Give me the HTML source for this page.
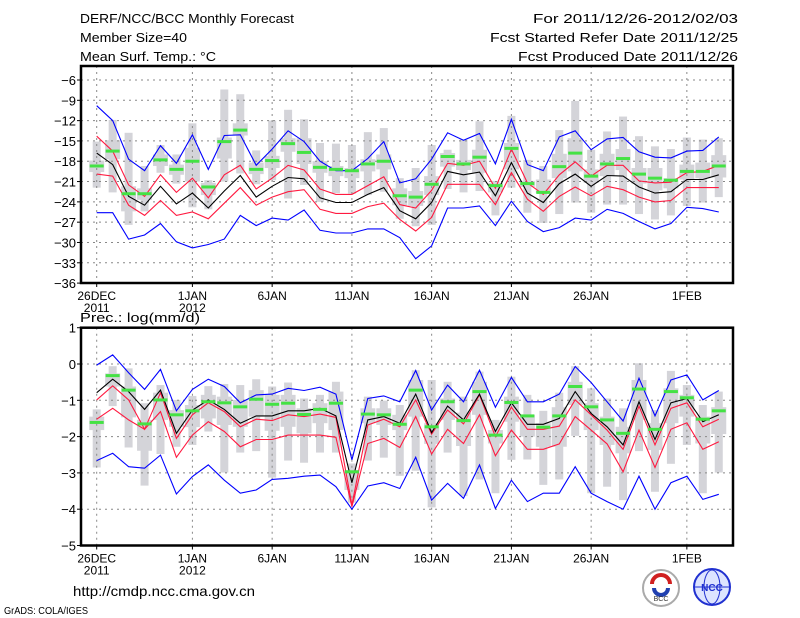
<!DOCTYPE html>
<html><head><meta charset="utf-8"><style>
html,body{margin:0;padding:0;background:#fff;}
svg{display:block;font-family:"Liberation Sans",sans-serif;}
</style></head><body>
<svg id="chart" width="800" height="618" viewBox="0 0 800 618" xmlns="http://www.w3.org/2000/svg">
<rect x="0" y="0" width="800" height="618" fill="#fff"/>
<g font-size="13" fill="#000">
<text x="80" y="23" textLength="214" lengthAdjust="spacingAndGlyphs">DERF/NCC/BCC Monthly Forecast</text>
<text x="80" y="42" textLength="107" lengthAdjust="spacingAndGlyphs">Member Size=40</text>
<text x="80" y="61" textLength="136" lengthAdjust="spacingAndGlyphs">Mean Surf. Temp.: °C</text>
<text x="533" y="23" textLength="205" lengthAdjust="spacingAndGlyphs">For 2011/12/26-2012/02/03</text>
<text x="490" y="42" textLength="248" lengthAdjust="spacingAndGlyphs">Fcst Started Refer Date 2011/12/25</text>
<text x="518" y="61" textLength="220" lengthAdjust="spacingAndGlyphs">Fcst Produced Date 2011/12/26</text>
</g>
<text x="80" y="322" font-size="13" textLength="120" lengthAdjust="spacingAndGlyphs">Prec.: log(mm/d)</text>
<g id="top"></g>
<g id="bot"></g>
<text x="73" y="596" font-size="14" textLength="182" lengthAdjust="spacingAndGlyphs">http://cmdp.ncc.cma.gov.cn</text>
<text x="4" y="614" font-size="10" textLength="84" lengthAdjust="spacingAndGlyphs">GrADS: COLA/IGES</text>
<g>
<circle cx="661" cy="588" r="18" fill="#fff" stroke="#aaa" stroke-width="2"/>
<path d="M652 584 a9 9 0 1 1 18 0" fill="none" stroke="#d02020" stroke-width="4"/>
<path d="M654 588 a7 7 0 0 0 14 0" fill="none" stroke="#2040b0" stroke-width="4"/>
<text x="661" y="601" font-size="7" text-anchor="middle" fill="#333">BCC</text>
</g>
<g>
<circle cx="712" cy="587" r="18" fill="#dde4ff" stroke="#2030d0" stroke-width="2"/>
<ellipse cx="712" cy="587" rx="8" ry="17" fill="none" stroke="#2030d0"/>
<line x1="695" y1="587" x2="729" y2="587" stroke="#2030d0"/>
<text x="712" y="591" font-size="10" font-weight="bold" text-anchor="middle" fill="#2030d0">NCC</text>
</g>
</svg>
<script>
// ---- Temperature panel data (40 days from 26 Dec 2011) ----
const dayLabels = ["26DEC","1JAN","6JAN","11JAN","16JAN","21JAN","26JAN","1FEB"];
const dayLabelIdx = [0,6,11,16,21,26,31,37];
const yearLabels = ["2011","2012"];
const tTicks = [-6,-9,-12,-15,-18,-21,-24,-27,-30,-33,-36];
const tMean = [-16.8,-18.5,-23.2,-24.5,-21.7,-24.3,-22.7,-24.9,-22.4,-20.1,-23.3,-21.7,-20.4,-20.6,-23.4,-24.1,-24.1,-22.9,-21.9,-25.3,-26.5,-24.1,-19.5,-20.0,-19.6,-23.1,-18.2,-22.7,-24.1,-21.3,-19.9,-21.7,-20.1,-20.2,-21.8,-22.7,-22.5,-20.7,-20.7,-20.0];
const tRedHi = [-14.3,-16.5,-21.5,-23.2,-20.0,-22.6,-20.5,-23.4,-20.0,-18.6,-22.1,-20.5,-18.6,-19.3,-22.1,-22.9,-22.9,-21.6,-20.3,-24.4,-24.9,-22.3,-18.3,-18.6,-18.0,-22.0,-16.2,-21.2,-22.9,-20.0,-18.1,-20.2,-18.6,-18.6,-20.9,-21.2,-21.1,-19.7,-19.5,-18.6];
const tRedLo = [-19.9,-20.2,-24.5,-26.0,-23.8,-26.0,-25.5,-26.5,-24.2,-21.9,-24.5,-23.3,-22.5,-22.2,-25.1,-25.7,-25.7,-24.7,-24.2,-26.6,-28.3,-26.3,-21.4,-21.4,-21.4,-24.4,-19.7,-23.6,-25.4,-23.2,-21.8,-23.1,-21.7,-22.2,-23.3,-24.0,-23.8,-21.9,-21.9,-21.9];
const tBlueHi = [-9.8,-12.0,-17.7,-19.4,-15.7,-18.3,-14.1,-19.2,-14.2,-14.1,-18.6,-16.2,-13.5,-15.1,-18.0,-19.4,-19.4,-17.6,-15.1,-21.2,-20.6,-17.7,-13.8,-14.9,-13.9,-18.4,-11.8,-18.5,-19.4,-14.4,-13.5,-16.3,-14.7,-14.5,-16.6,-17.4,-17.5,-16.5,-16.4,-14.4];
const tBlueLo = [-25.6,-25.6,-29.5,-28.9,-27.2,-29.9,-30.8,-30.3,-29.5,-26.0,-27.5,-26.4,-26.7,-25.2,-28.2,-28.6,-28.6,-28.0,-28.0,-29.3,-32.4,-30.5,-24.9,-24.9,-24.6,-27.5,-23.9,-26.9,-28.4,-27.8,-26.4,-26.7,-25.1,-25.7,-26.9,-28.0,-27.2,-24.8,-25.0,-25.5];
const tGreen = [-18.7,-16.5,-22.8,-22.8,-17.8,-19.2,-18.0,-21.8,-15.1,-13.4,-19.2,-17.9,-15.4,-16.7,-18.9,-19.2,-19.4,-18.4,-18.0,-23.1,-23.3,-21.4,-17.3,-18.4,-17.4,-21.6,-16.1,-21.3,-22.6,-18.8,-16.8,-20.2,-18.4,-17.6,-19.9,-20.5,-20.8,-19.5,-19.5,-18.7];
const tMax = [-15.1,-11.9,-13.8,-18.7,-15.6,-17.0,-12.4,-20.8,-7.4,-8.1,-16.4,-12.0,-10.4,-11.8,-15.3,-15.4,-15.6,-13.7,-13.1,-20.5,-19.0,-15.6,-16.3,-14.8,-12.1,-20.9,-11.3,-17.8,-18.7,-13.4,-9.1,-16.3,-13.6,-11.4,-14.3,-15.8,-16.2,-14.5,-14.8,-14.6];
const tMin = [-21.9,-22.6,-27.4,-25.4,-19.7,-21.3,-24.8,-25.1,-21.0,-19.8,-21.4,-20.8,-23.5,-21.5,-24.0,-22.7,-22.8,-23.0,-22.5,-26.5,-27.6,-27.4,-22.1,-22.6,-22.4,-26.0,-21.9,-25.6,-27.1,-25.8,-24.1,-25.6,-24.4,-24.4,-25.8,-26.6,-26.0,-24.6,-24.1,-23.3];
const tQ3 = [-17.9,-14.9,-21.7,-22.0,-17.0,-18.5,-16.0,-21.2,-14.5,-12.4,-18.2,-17.2,-14.6,-14.6,-18.0,-18.7,-19.0,-17.7,-17.0,-22.0,-22.4,-20.2,-16.8,-17.8,-16.3,-21.2,-15.3,-20.9,-20.7,-16.9,-14.6,-19.2,-16.9,-16.2,-19.0,-19.0,-20.5,-18.5,-18.2,-17.1];
const tQ1 = [-19.6,-17.7,-25.4,-23.7,-18.7,-20.0,-21.0,-23.0,-17.6,-14.2,-19.9,-19.0,-16.6,-18.4,-19.7,-20.2,-20.5,-19.5,-19.2,-24.5,-24.6,-23.0,-18.8,-19.3,-19.7,-22.6,-19.2,-21.8,-22.7,-20.5,-19.5,-21.2,-20.2,-19.3,-21.3,-22.3,-22.0,-20.7,-20.5,-20.4];
// ---- Precipitation panel data ----
const pTicks = [1,0,-1,-2,-3,-4,-5];
const pMean = [-0.79,-0.42,-0.76,-1.25,-0.72,-1.91,-1.27,-0.99,-1.25,-1.63,-1.43,-1.43,-1.29,-1.29,-1.22,-1.43,-3.27,-1.54,-1.45,-1.63,-0.83,-1.89,-1.16,-1.54,-0.83,-1.86,-1.07,-1.66,-1.66,-1.50,-0.76,-1.36,-1.73,-2.23,-1.04,-2.08,-1.07,-0.95,-1.59,-1.40];
const pRedHi = [-0.99,-0.60,-0.99,-1.80,-0.79,-2.05,-1.40,-1.07,-1.31,-1.73,-1.52,-1.56,-1.40,-1.45,-1.38,-1.47,-3.88,-1.68,-1.52,-1.73,-0.99,-1.93,-1.27,-1.65,-0.85,-2.00,-1.19,-1.80,-1.80,-1.71,-0.99,-1.40,-1.82,-2.35,-1.16,-2.23,-1.22,-1.07,-1.73,-1.52];
const pRedLo = [-1.52,-1.22,-1.54,-1.80,-1.31,-2.57,-1.96,-1.59,-1.86,-2.28,-2.08,-2.08,-1.96,-1.96,-1.96,-2.02,-3.93,-2.19,-2.05,-2.30,-1.45,-2.48,-1.80,-2.19,-1.40,-2.53,-1.82,-2.35,-2.35,-2.20,-1.45,-1.82,-2.20,-2.97,-1.82,-2.85,-1.80,-1.62,-2.35,-2.14];
const pBlueHi = [-0.03,0.25,-0.24,-0.70,-0.15,-1.29,-0.70,-0.42,-0.62,-1.07,-0.85,-0.83,-0.67,-0.73,-0.64,-0.83,-2.64,-0.95,-0.88,-1.04,-0.18,-1.27,-0.58,-1.04,-0.17,-1.19,-0.37,-1.04,-1.04,-0.83,-0.07,-0.51,-1.04,-1.57,-0.39,-1.43,-0.44,-0.30,-0.99,-0.73];
const pBlueLo = [-2.66,-2.46,-2.83,-2.87,-2.51,-3.58,-3.10,-2.78,-3.20,-3.56,-3.47,-3.18,-3.15,-3.09,-3.06,-3.38,-4.00,-3.36,-3.27,-3.43,-2.57,-3.75,-3.29,-3.70,-2.78,-3.98,-3.20,-3.79,-3.56,-3.56,-2.83,-3.56,-3.79,-4.00,-3.09,-4.00,-3.27,-3.09,-3.73,-3.59];
const pGreen = [-1.61,-0.32,-0.72,-1.65,-0.99,-1.40,-1.29,-1.04,-1.07,-1.18,-0.97,-1.11,-1.08,-1.39,-1.25,-1.08,-2.97,-1.38,-1.40,-1.66,-0.72,-1.73,-1.04,-1.56,-0.76,-1.96,-1.06,-1.43,-1.74,-1.43,-0.62,-1.18,-1.54,-1.91,-0.69,-1.80,-0.76,-0.93,-1.52,-1.29];
const pMax = [-1.25,-0.06,-0.12,-1.08,-0.58,-0.99,-0.88,-0.61,-0.55,-0.58,-0.42,-0.62,-0.51,-0.95,-0.85,-0.49,-2.74,-0.90,-1.01,-1.13,-0.17,-0.44,-0.49,-0.90,-0.21,-1.54,-0.35,-0.85,-1.29,-0.79,-0.06,-0.67,-0.95,-1.22,0.02,-1.27,-0.19,-0.58,-1.13,-0.76];
const pMin = [-2.85,-1.16,-2.30,-3.35,-2.48,-2.28,-2.23,-1.86,-2.99,-2.44,-2.40,-3.13,-2.66,-2.72,-2.44,-2.44,-3.82,-2.66,-2.58,-3.08,-2.94,-3.95,-2.44,-3.64,-3.18,-3.56,-2.64,-2.63,-3.33,-3.18,-1.98,-3.56,-3.38,-3.75,-2.40,-3.52,-2.75,-2.23,-3.56,-2.99];
const pQ3 = [-1.45,-0.26,-0.62,-1.54,-0.79,-1.27,-1.13,-0.85,-0.90,-0.99,-0.72,-0.85,-0.85,-1.22,-1.08,-0.76,-2.92,-1.22,-1.22,-1.40,-0.44,-1.63,-0.95,-1.34,-0.49,-1.82,-0.90,-1.40,-1.63,-1.19,-0.49,-1.08,-1.45,-1.73,-0.44,-1.63,-0.67,-0.85,-1.45,-1.19];
const pQ1 = [-1.82,-0.62,-1.47,-2.39,-1.54,-1.73,-1.74,-1.50,-1.68,-1.73,-1.45,-1.84,-1.73,-1.91,-1.63,-1.82,-3.47,-1.63,-1.68,-1.82,-1.45,-2.20,-1.54,-2.26,-1.40,-2.19,-1.59,-2.00,-2.28,-2.28,-1.13,-1.82,-2.23,-2.46,-1.54,-2.37,-1.63,-1.45,-2.19,-1.93];

const NS = "http://www.w3.org/2000/svg";
const X0 = 81, X1 = 733;
function xDay(d){ return 96.7 + 15.95*d; }
function mk(parent, tag, attrs){
  const e = document.createElementNS(NS, tag);
  for (const k in attrs) e.setAttribute(k, attrs[k]);
  parent.appendChild(e);
  return e;
}
function drawPanel(g, top, bottom, yf, ticks, series, boxes, green){
  // boxes
  for (let i=0;i<boxes.max.length;i++){
    const x = xDay(i);
    const w = mk(g,'rect',{x:x-4,y:yf(boxes.max[i]),width:8,height:yf(boxes.min[i])-yf(boxes.max[i]),fill:'#d4d4d9'});
    
    
    const b = mk(g,'rect',{x:x-7.5,y:yf(boxes.q3[i]),width:15,height:yf(boxes.q1[i])-yf(boxes.q3[i]),fill:'#d4d4d9'});
    
    
  }
  // grid
  for (const t of ticks){
    const y = yf(t);
    if (y>top+1 && y<bottom-1){
      const l = mk(g,'line',{x1:X0,x2:X1,y1:y,y2:y,stroke:'#888','stroke-dasharray':'2,4','stroke-width':1});
      
      
    }
    const tk = mk(g,'line',{x1:X0-4,x2:X0,y1:y,y2:y,stroke:'#000'});
    
    
    const tx = mk(g,'text',{x:76,y:y+5,'font-size':13,'text-anchor':'end'});
    tx.textContent = (t<0? '\u2212'+(-t) : ''+t);
    
    
  }
  for (let k=0;k<dayLabelIdx.length;k++){
    const x = xDay(dayLabelIdx[k]);
    const l = mk(g,'line',{x1:x,x2:x,y1:top,y2:bottom,stroke:'#888','stroke-dasharray':'2,4'});
    
    
    const tk = mk(g,'line',{x1:x,x2:x,y1:bottom,y2:bottom+4,stroke:'#000'});
    
    
    const tx = mk(g,'text',{x:x,y:bottom+17,'font-size':12,'text-anchor':'middle'});
    tx.textContent = dayLabels[k];
    
    
  }
  for (let k=0;k<yearLabels.length;k++){
    const tx = mk(g,'text',{x:xDay(dayLabelIdx[k]),y:bottom+29,'font-size':12,'text-anchor':'middle'});
    tx.textContent = yearLabels[k];
    
    
  }
  // lines
  for (const s of series){
    const pts = s.v.map((v,i)=>xDay(i).toFixed(1)+','+yf(v).toFixed(1)).join(' ');
    const p = mk(g,'polyline',{points:pts,fill:'none',stroke:s.c,'stroke-width':1.1});
    
    
  }
  for (let i=0;i<green.length;i++){
    const r = mk(g,'rect',{x:xDay(i)-7,y:yf(green[i])-1.5,width:14,height:3,fill:'#44e244'});
    
    
  }
  const f = mk(g,'rect',{x:X0,y:top,width:X1-X0,height:bottom-top,fill:'none',stroke:'#000','stroke-width':2.5});
  
  
}
const yT = v => 80 + (-6 - v)*6.77;
const yP = v => 364 - 36.3*v;
drawPanel(document.getElementById('top'), 66, 283, yT, tTicks,
  [{v:tBlueHi,c:'#0000ff',n:'blue-upper-line'},{v:tBlueLo,c:'#0000ff',n:'blue-lower-line'},
   {v:tRedHi,c:'#ff1a40',n:'red-upper-line'},{v:tRedLo,c:'#ff1a40',n:'red-lower-line'},
   {v:tMean,c:'#000',n:'ensemble-mean-line'}],
  {max:tMax,min:tMin,q3:tQ3,q1:tQ1}, tGreen);
drawPanel(document.getElementById('bot'), 327.7, 545.5, yP, pTicks,
  [{v:pBlueHi,c:'#0000ff',n:'blue-upper-line'},{v:pBlueLo,c:'#0000ff',n:'blue-lower-line'},
   {v:pRedHi,c:'#ff1a40',n:'red-upper-line'},{v:pRedLo,c:'#ff1a40',n:'red-lower-line'},
   {v:pMean,c:'#000',n:'ensemble-mean-line'}],
  {max:pMax,min:pMin,q3:pQ3,q1:pQ1}, pGreen);
</script>
</body></html>
